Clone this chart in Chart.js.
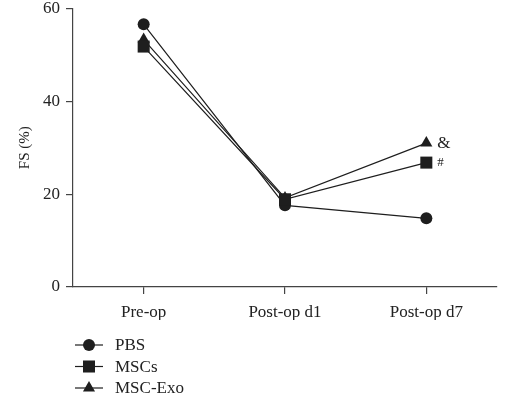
<!DOCTYPE html>
<html>
<head>
<meta charset="utf-8">
<script src="https://cdn.jsdelivr.net/npm/chart.js@4.4.1/dist/chart.umd.min.js"></script>
<style>
  html, body { margin: 0; padding: 0; background: #fff; }
  #wrap { width: 515px; height: 395px; position: relative; }
</style>
</head>
<body>
<div id="wrap"><canvas id="c"></canvas></div>
<script>
// timepoints on the x axis
const timepoints = ['Pre-op', 'Post-op d1', 'Post-op d7'];

// FS (%) per group
const pbs    = [56.6, 17.6, 14.8];
const mscs   = [51.8, 18.9, 26.8];
const mscExo = [53.3, 19.2, 31.0];

const groupNames = ['PBS', 'MSCs', 'MSC-Exo'];
const markers = ['circle', 'rect', 'triangle'];
const markerSizes = [6, 8.5, 7];
const drawOrder = [1, 0, 2]; // squares end up on top, as in the figure
// significance marks next to the last point of each group
const sigMarks = ['', '#', '&'];

const yTicks = [0, 20, 40, 60];

const SERIF = '"Liberation Serif", "Times New Roman", serif';
const INK = '#1e1e1e';

const datasets = [pbs, mscs, mscExo].map((vals, i) => ({
  label: groupNames[i],
  data: vals,
  order: drawOrder[i],
  borderColor: INK,
  backgroundColor: INK,
  borderWidth: 1.2,
  pointStyle: markers[i],
  pointRadius: markerSizes[i],
  pointBackgroundColor: INK,
  pointBorderColor: INK,
  pointBorderWidth: 0,
  tension: 0,
  clip: false,
}));

// draws the '#' / '&' marks to the right of the last points
const sigPlugin = {
  id: 'sigMarks',
  afterDatasetsDraw(chart) {
    const ctx = chart.ctx;
    ctx.save();
    ctx.fillStyle = '#222';
    ctx.textBaseline = 'middle';
    ctx.textAlign = 'left';
    sigMarks.forEach((m, i) => {
      if (!m) return;
      const meta = chart.getDatasetMeta(i);
      const pt = meta.data[meta.data.length - 1];
      ctx.font = (m === '&' ? 17 : 13) + 'px ' + SERIF;
      ctx.fillText(m, pt.x + 11, pt.y);
    });
    ctx.restore();
  }
};

// vertical legend in the lower-left corner
const legendPlugin = {
  id: 'stackLegend',
  afterDraw(chart) {
    const ctx = chart.ctx;
    const x0 = 75;
    const y0 = 345;
    const rowH = 21.5;
    ctx.save();
    chart.data.datasets.forEach((ds, i) => {
      const y = y0 + i * rowH;
      ctx.strokeStyle = INK;
      ctx.lineWidth = 1.2;
      ctx.beginPath();
      ctx.moveTo(x0, y);
      ctx.lineTo(x0 + 28, y);
      ctx.stroke();
      ctx.fillStyle = INK;
      ctx.strokeStyle = INK;
      Chart.helpers.drawPoint(ctx, {
        pointStyle: ds.pointStyle,
        radius: ds.pointRadius,
        borderWidth: 0,
        rotation: 0
      }, x0 + 14, y);
      ctx.fillStyle = '#222';
      ctx.font = '17px ' + SERIF;
      ctx.textBaseline = 'middle';
      ctx.textAlign = 'left';
      ctx.fillText(ds.label, 115, y + 1);
    });
    ctx.restore();
  }
};

new Chart(document.getElementById('c'), {
  type: 'line',
  data: { labels: timepoints, datasets },
  options: {
    responsive: true,
    maintainAspectRatio: false,
    animation: false,
    layout: { padding: { top: 7, right: 18, bottom: 75, left: 0 } },
    plugins: {
      legend: { display: false },
      tooltip: { enabled: false },
    },
    scales: {
      x: {
        type: 'category',
        offset: true,
        grid: {
          display: true,
          drawOnChartArea: false,
          drawTicks: true,
          tickLength: 7,
          color: '#444',
          lineWidth: 1.2,
        },
        border: { display: true, color: '#444', width: 1.2 },
        ticks: {
          color: '#222',
          padding: 8,
          font: { family: SERIF, size: 17 },
        },
        afterFit(scale) { scale.height = 33; },
      },
      y: {
        min: 0,
        max: 60,
        afterBuildTicks(scale) {
          scale.ticks = yTicks.map(v => ({ value: v }));
        },
        grid: {
          display: true,
          drawOnChartArea: false,
          drawTicks: true,
          tickLength: 7,
          color: '#444',
          lineWidth: 1.2,
        },
        border: { display: true, color: '#444', width: 1.2 },
        ticks: {
          color: '#222',
          padding: 6,
          font: { family: SERIF, size: 17 },
        },
        title: {
          display: true,
          text: 'FS (%)',
          color: '#222',
          padding: { top: 16, bottom: 0 },
          font: { family: SERIF, size: 15 },
        },
        afterFit(scale) {
          scale.width = 73;
          scale.paddingTop = 0;
          scale.paddingBottom = 0;
        },
      },
    },
  },
  plugins: [sigPlugin, legendPlugin],
});
</script>
</body>
</html>
